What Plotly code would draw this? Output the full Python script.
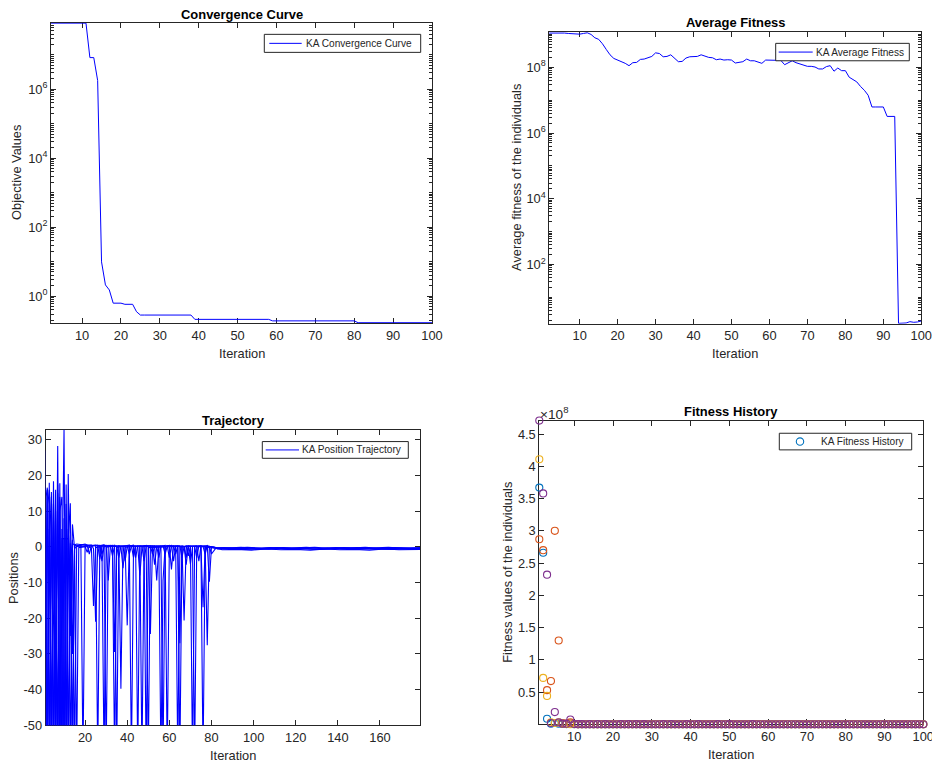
import math
import plotly.graph_objects as go

W, H = 932, 766          # reference picture size (layout coordinates are given in it)
K = 1.0115               # compensation for the photographing scale
FIG_W, FIG_H = round(W * K), round(H * K)
FONT = "Liberation Sans, Arial, Helvetica, sans-serif"
AX = "#262626"
BLUE = "#0000FF"

# ---------------- data ----------------
ITER_100 = list(range(1, 101))

CONV_VALUES = [
    8.3e7, 8.3e7, 8.3e7, 8.3e7, 8.3e7, 8.3e7, 8.3e7, 8.3e7, 8.3e7, 8.3e7,
    8.3e7, 8.3e6, 8.3e6, 1.8e6, 9.8, 2.1, 1.5, 0.62, 0.62, 0.62,
    0.575, 0.575, 0.575, 0.35, 0.28, 0.28, 0.28, 0.28, 0.28, 0.28,
    0.28, 0.28, 0.28, 0.28, 0.28, 0.28, 0.28, 0.28, 0.21, 0.21,
    0.21, 0.21, 0.21, 0.21, 0.21, 0.21, 0.21, 0.21, 0.21, 0.21,
    0.21, 0.21, 0.21, 0.21, 0.21, 0.21, 0.21, 0.21, 0.19, 0.19,
    0.19, 0.19, 0.19, 0.19, 0.19, 0.19, 0.19, 0.19, 0.19, 0.19,
    0.19, 0.19, 0.19, 0.19, 0.19, 0.19, 0.19, 0.19, 0.19, 0.19,
    0.168, 0.168, 0.168, 0.168, 0.168, 0.168, 0.168, 0.168, 0.168, 0.168,
    0.168, 0.168, 0.168, 0.168, 0.168, 0.168, 0.168, 0.168, 0.168, 0.168,
]

AVG_FITNESS = [
    1.10e9, 1.10e9, 1.12e9, 1.15e9, 1.12e9, 1.10e9, 1.07e9, 1.05e9, 1.02e9, 1.02e9,
    1.07e9, 1.12e9, 1.00e9, 7.9e8, 7.1e8, 5.2e8, 3.5e8, 2.4e8, 1.86e8, 1.66e8,
    1.51e8, 1.32e8, 1.12e8, 1.38e8, 1.41e8, 1.74e8, 1.78e8, 2.00e8, 2.14e8, 2.75e8,
    2.63e8, 2.09e8, 2.14e8, 2.40e8, 1.91e8, 1.48e8, 1.51e8, 1.91e8, 2.09e8, 2.09e8,
    2.14e8, 2.40e8, 2.14e8, 2.00e8, 1.95e8, 1.70e8, 1.78e8, 1.66e8, 1.70e8, 1.66e8,
    1.35e8, 1.41e8, 1.48e8, 1.78e8, 1.58e8, 1.58e8, 1.41e8, 1.32e8, 1.66e8, 1.66e8,
    1.58e8, 1.58e8, 1.62e8, 1.20e8, 1.41e8, 1.58e8, 1.38e8, 1.26e8, 1.17e8, 1.07e8,
    1.07e8, 1.02e8, 8.9e7, 8.9e7, 1.05e8, 1.12e8, 7.6e7, 9.5e7, 7.9e7, 7.9e7,
    5.0e7, 4.2e7, 3.6e7, 2.6e7, 2.0e7, 1.41e7, 6.2e6, 6.2e6, 6.2e6, 6.2e6,
    3.2e6, 3.2e6, 3.2e6, 1.62, 1.62, 1.66, 1.82, 1.74, 1.78, 1.91,
]

# trajectory: (iteration, position) pairs
TRAJ_1 = [(1, 27), (2, -60), (3, 18), (4, -60), (5, 18.4), (6, -45), (7, 28.3), (8, -60), (9, -15),
          (10, 33), (11, -60), (12, 20.4), (13, -25), (14, 6.3), (15, -0.5), (16, 0.2), (18, 0.4),
          (19, -60), (20, 0.3), (23, 0.5), (24, -0.5), (25, -21), (26, 0.2), (29, 0.6), (30, -60),
          (31, 0.4), (34, 0.1), (36, 0.3), (37, -39.8), (38, 0.2), (41, 0.5), (42, -60), (43, 0.3),
          (47, 0.1), (49, 0.4), (50, -60), (51, 0.2), (53, 0.3), (54, -9.4), (55, 0.1), (58, 0.4),
          (59, -60), (60, 0.2), (63, 0.3), (66, 0.1), (67, -20.6), (68, 0.3), (70, 0.2), (71, -60),
          (72, 0.1), (77, 0.3), (78, -27.6), (79, 0.1), (82, -0.2), (90, -0.3), (97, -0.1),
          (104, -0.4), (111, -0.2), (118, -0.3), (125, -0.1), (132, -0.4), (139, -0.2), (146, -0.3),
          (153, -0.1), (160, -0.4), (167, -0.2), (174, -0.3), (179, -0.2)]
TRAJ_2 = [(1, 16.6), (2, 14), (3, -60), (4, 15.4), (5, -60), (6, 10), (7, -60), (8, 17.8), (9, -60),
          (10, 2.3), (11, 2.3), (12, 2.3), (13, 12.2), (14, -60), (15, 0.5), (16, 0.3), (20, 0.8),
          (22, 0.2), (25, 0.5), (26, -60), (27, 0.3), (30, 0.4), (31, -9.4), (32, 0.2), (34, 0.5),
          (35, -60), (36, 0.3), (39, 0.2), (40, -22), (41, 0.4), (44, 0.1), (45, -60), (46, 0.3),
          (50, 0.2), (51, -24.4), (52, 0.1), (56, 0.3), (57, -60), (58, 0.2), (60, 0.4), (61, -6.3),
          (62, 0.2), (64, 0.3), (65, -60), (66, 0.1), (75, 0.3), (76, -60), (77, 0.2), (78, 0.4),
          (79, -9.8), (80, 0), (83, -0.5), (88, -0.6), (95, -0.4), (102, -0.7), (109, -0.5),
          (116, -0.6), (123, -0.4), (130, -0.7), (137, -0.5), (144, -0.6), (151, -0.4), (158, -0.7),
          (165, -0.5), (172, -0.6), (179, -0.5)]
TRAJ_3 = [(1, -60), (2, 16.6), (3, 12), (4, -60), (5, 15), (6, -60), (7, 17.5), (8, -50), (9, 5),
          (10, -60), (11, 17.5), (12, -60), (13, 1), (14, -30), (15, -0.3), (16, -60), (17, -0.2),
          (21, 0.1), (23, -0.3), (24, -16.6), (25, -0.2), (28, 0.1), (29, -60), (30, -0.1), (33, 0.2),
          (34, -60), (35, -0.2), (37, 0.1), (38, -6), (39, -0.1), (45, 0.2), (46, -8), (47, 0),
          (48, 0.1), (49, -60), (50, -0.2), (63, 0.1), (64, -60), (65, -0.1), (69, 0.2), (70, -4.8),
          (71, 0), (72, -60), (73, -0.1), (75, 0.2), (76, -16.9), (77, -0.1), (81, -0.3), (86, -0.2),
          (93, -0.5), (100, -0.3), (107, -0.6), (114, -0.2), (121, -0.4), (128, -0.6), (135, -0.3),
          (142, -0.5), (149, -0.2), (156, -0.4), (163, -0.6), (170, -0.3), (179, -0.4)]
TRAJ_4 = [(1, 5), (2, -60), (3, 16), (4, 3), (5, -60), (6, 16), (7, -60), (8, 10), (9, 14),
          (10, -60), (11, 12), (12, -60), (13, -5), (14, 2), (15, -60), (16, 0.1), (19, 0.6),
          (27, 0.3), (28, -4), (29, 0.2), (33, 0.4), (34, -29.5), (35, 0.1), (42, 0.3), (43, -3),
          (44, 0.2), (46, 0.1), (47, -60), (48, 0.3), (55, 0.2), (56, -60), (57, -9.4), (58, 0.1),
          (59, 0.3), (60, -3), (61, 0.2), (64, 0.1), (65, -27), (66, 0.3), (67, 0.1), (68, -3),
          (69, 0.2), (81, 0), (85, -0.8), (92, -0.7), (99, -0.9), (106, -0.6), (113, -0.8),
          (120, -0.7), (127, -0.9), (134, -0.6), (141, -0.8), (148, -0.7), (155, -0.9), (162, -0.6),
          (169, -0.8), (179, -0.7)]
TRAJ_5 = [(1, -30), (2, 16), (3, -60), (4, 14), (5, -20), (6, -60), (7, 15), (8, -60), (9, 2.3),
          (10, 2.3), (11, 2.3), (12, 2.3), (13, -60), (14, 1), (15, 0.5), (16, 0.8), (21, 0.4),
          (22, -2), (23, 0.3), (26, 0.5), (27, -3.5), (28, 0.2), (32, 0.4), (33, -2.5), (34, 0.3),
          (38, 0.2), (39, -4), (40, 0.1), (43, 0.5), (44, -3), (45, 0.3), (52, 0.2), (53, -5),
          (54, 0.1), (57, 0.3), (58, -2), (59, 0.2), (61, 0.4), (62, -4), (63, 0.2), (65, 0.3),
          (66, -3), (67, 0.1), (68, 0.2), (69, -2.5), (70, 0.1), (73, 0.3), (74, -4), (75, 0.2),
          (79, 0.1), (80, -2), (82, -0.4), (87, -0.3), (94, -0.1), (101, -0.4), (108, -0.2),
          (115, -0.5), (122, -0.3), (129, -0.1), (136, -0.4), (143, -0.2), (150, -0.5), (157, -0.3),
          (164, -0.1), (171, -0.4), (179, -0.3)]
TRAJ_6 = [(1, 10), (2, -60), (3, 5), (4, -60), (5, 12), (6, -20), (7, -60), (8, 14), (9, -60),
          (10, 8), (11, -60), (12, 5), (13, -10), (14, -60), (15, 0.4), (16, 0.2), (20, 0.1),
          (21, -1.5), (22, 0.2), (27, 0.4), (28, -2), (29, 0.1), (35, 0.2), (36, -3), (37, 0.1),
          (40, 0.3), (41, -2), (42, 0.2), (47, 0.1), (48, -4), (49, 0.2), (51, 0.3), (52, -2),
          (53, 0.1), (54, 0.2), (55, -3), (56, 0.1), (62, 0.3), (63, -2), (64, 0.2), (67, 0.1),
          (68, -5), (69, 0.2), (72, 0.1), (73, -3), (74, 0.2), (76, 0.1), (77, -2), (78, 0.3),
          (83, -0.6), (89, -0.4), (96, -0.7), (103, -0.5), (110, -0.3), (117, -0.6), (124, -0.4),
          (131, -0.7), (138, -0.5), (145, -0.3), (152, -0.6), (159, -0.4), (166, -0.7), (173, -0.5),
          (179, -0.6)]
TRAJECTORIES = [TRAJ_1, TRAJ_2, TRAJ_3, TRAJ_4, TRAJ_5, TRAJ_6]

# fitness history (4 individuals), iterations 1-10 then 11-100
FIT_BLUE_EARLY = [3.67e8, 2.66e8, 8.6e6, 1.0e6, 2.0e6, 1.0e6, 5e5, 3e5, 1.0e6, 2e5]
FIT_ORANGE_EARLY = [2.87e8, 2.70e8, 5.3e7, 6.7e7, 3.0e8, 1.30e8, 2.0e6, 1.0e6, 3.0e6, 5e5]
FIT_YELLOW_EARLY = [4.11e8, 7.2e7, 4.4e7, 3.0e6, 2.0e6, 3.0e6, 1.0e6, 5e5, 2e5, 4e5]
FIT_PURPLE_EARLY = [4.71e8, 3.58e8, 2.32e8, 2.0e6, 1.9e7, 3.0e6, 1.0e6, 1.0e6, 7.5e6, 5e5]
FIT_LATE = [
    1.5e5, 2.0e5, 1.2e5, 1.8e5, 1.0e5, 1.6e5, 1.3e5, 1.9e5, 1.1e5, 1.4e5,
    1.2e5, 1.7e5, 1.0e5, 1.5e5, 1.3e5, 1.8e5, 1.1e5, 1.6e5, 1.2e5, 1.4e5,
    1.0e5, 1.3e5, 1.5e5, 1.1e5, 1.7e5, 1.2e5, 1.4e5, 1.0e5, 1.6e5, 1.3e5,
    1.1e5, 1.5e5, 1.2e5, 1.4e5, 1.0e5, 1.3e5, 1.6e5, 1.1e5, 1.2e5, 1.5e5,
    1.3e5, 1.0e5, 1.4e5, 1.2e5, 1.1e5, 1.5e5, 1.0e5, 1.3e5, 1.2e5, 1.4e5,
    1.1e5, 1.2e5, 1.0e5, 1.3e5, 1.4e5, 1.1e5, 1.2e5, 1.0e5, 1.3e5, 1.1e5,
    1.2e5, 1.0e5, 1.1e5, 1.3e5, 1.0e5, 1.2e5, 1.1e5, 1.0e5, 1.2e5, 1.1e5,
    1.0e5, 1.1e5, 1.2e5, 1.0e5, 1.1e5, 1.0e5, 1.2e5, 1.1e5, 1.0e5, 1.1e5,
    1.0e5, 1.1e5, 1.0e5, 1.0e5, 1.1e5, 1.0e5, 1.0e5, 1.1e5, 1.0e5, 1.0e5,
]
FIT_SERIES = [FIT_BLUE_EARLY, FIT_ORANGE_EARLY, FIT_YELLOW_EARLY, FIT_PURPLE_EARLY]
FIT_COLORS = ["#0072BD", "#D95319", "#EDB120", "#7E2F8E"]

LOG_MAJOR_TL = [1, 1e2, 1e4, 1e6]
LOG_MAJOR_TR = [1e2, 1e4, 1e6, 1e8]
POS_TICKS = [-50, -40, -30, -20, -10, 0, 10, 20, 30]
FIT_TICKS = [0.5e8, 1e8, 1.5e8, 2e8, 2.5e8, 3e8, 3.5e8, 4e8, 4.5e8]
FIT_TICK_TEXT = ["0.5", "1", "1.5", "2", "2.5", "3", "3.5", "4", "4.5"]

LEGEND_NAMES = ["KA Convergence Curve", "KA Average Fitness", "KA Position Trajectory", "KA Fitness History"]

# ---------------- figure ----------------
fig = go.Figure()

fig.add_trace(go.Scatter(x=ITER_100, y=CONV_VALUES, mode="lines", name=LEGEND_NAMES[0],
                         line=dict(color=BLUE, width=1), xaxis="x", yaxis="y", showlegend=False))
fig.add_trace(go.Scatter(x=ITER_100, y=AVG_FITNESS, mode="lines", name=LEGEND_NAMES[1],
                         line=dict(color=BLUE, width=1), xaxis="x2", yaxis="y2", showlegend=False))
for tr in TRAJECTORIES:
    fig.add_trace(go.Scatter(x=[p[0] for p in tr], y=[p[1] for p in tr], mode="lines",
                             name=LEGEND_NAMES[2], showlegend=False,
                             line=dict(color=BLUE, width=1.1), xaxis="x3", yaxis="y3"))
for early, col in zip(FIT_SERIES, FIT_COLORS):
    fig.add_trace(go.Scatter(x=ITER_100, y=early + FIT_LATE, mode="markers", name=LEGEND_NAMES[3],
                             showlegend=False, cliponaxis=False,
                             marker=dict(symbol="circle-open", size=7 * K, color=col, line=dict(width=1.1)),
                             xaxis="x4", yaxis="y4"))


def px(x):
    return x / W


def py(y):
    return 1 - y / H


def dx(a, b):
    return [px(a), px(b)]


def dy(top, bottom):
    return [py(bottom), py(top)]


def fs(s):
    return s * K


def base_axis(**kw):
    d = dict(showline=True, linecolor=AX, linewidth=1, mirror="allticks", ticks="inside",
             ticklen=5, tickwidth=1, tickcolor=AX, showgrid=False, zeroline=False,
             layer="below traces",
             tickfont=dict(family=FONT, size=fs(12.7), color=AX))
    d.update(kw)
    return d


minor_log = [m * 10 ** k for k in range(-1, 10) for m in range(1, 10)]
minor_cfg = dict(tickvals=minor_log, ticks="inside", ticklen=3, tickcolor=AX, showgrid=False)


def pow_text(vals):
    return ["10<sup>%d</sup>" % round(math.log10(v)) for v in vals]


PAD = 0.012  # tiny log-range pad so curves lying on the box edge stay visible
conv_rng = [math.log10(min(CONV_VALUES)) - PAD, math.log10(max(CONV_VALUES)) + PAD]
avg_rng = [math.log10(min(AVG_FITNESS)) - PAD, math.log10(max(AVG_FITNESS)) + PAD]
all_fit = [v for s in FIT_SERIES for v in s] + FIT_LATE

fig.update_layout(
    width=FIG_W, height=FIG_H, autosize=False, showlegend=False,
    margin=dict(l=0, r=0, t=0, b=0),
    paper_bgcolor="white", plot_bgcolor="white",
    font=dict(family=FONT, color=AX),
    xaxis=base_axis(domain=dx(51, 432), range=[2, 100], tickvals=list(range(10, 101, 10)), anchor="y"),
    yaxis=base_axis(domain=dy(22.7, 322.7), type="log", range=conv_rng, tickvals=LOG_MAJOR_TL,
                    ticktext=pow_text(LOG_MAJOR_TL), minor=minor_cfg, anchor="x"),
    xaxis2=base_axis(domain=dx(549.3, 921.3), range=[2, 100], tickvals=list(range(10, 101, 10)), anchor="y2"),
    yaxis2=base_axis(domain=dy(32, 323.3), type="log", range=avg_rng, tickvals=LOG_MAJOR_TR,
                     ticktext=pow_text(LOG_MAJOR_TR), minor=minor_cfg, anchor="x2"),
    xaxis3=base_axis(domain=dx(45.7, 420), range=[1.3, 179], tickvals=list(range(20, 161, 20)), anchor="y3"),
    yaxis3=base_axis(domain=dy(429.3, 724.3), range=[-50, 32.8], tickvals=POS_TICKS,
                     ticktext=[str(v) for v in POS_TICKS], anchor="x3"),
    xaxis4=base_axis(domain=dx(539.3, 923.3), range=[1, 100], tickvals=list(range(10, 101, 10)), anchor="y4"),
    yaxis4=base_axis(domain=dy(420, 723.3), range=[min(all_fit), max(all_fit)], tickvals=FIT_TICKS,
                     ticktext=FIT_TICK_TEXT, anchor="x4"),
)


def ann(text, x, y, size=12.7, bold=False, angle=0, xanchor="center", color=AX):
    fig.add_annotation(text=("<b>%s</b>" % text) if bold else text, x=px(x), y=py(y),
                       xref="paper", yref="paper", showarrow=False, textangle=angle,
                       xanchor=xanchor, yanchor="middle",
                       font=dict(family=FONT, size=fs(size), color=color))


# titles
ann("Convergence Curve", 241.5, 14, bold=True, color="black", size=12.8)
ann("Average Fitness", 735, 22.7, bold=True, color="black", size=12.8)
ann("Trajectory", 233, 420, bold=True, color="black", size=12.8)
ann("Fitness History", 731.3, 411, bold=True, color="black", size=12.8)
# x labels
for xc, yc in [(241.5, 353.3), (735, 353.3), (233, 754.3), (731.3, 753.3)]:
    ann("Iteration", xc, yc)
# y labels
ann("Objective Values", 16.7, 172, angle=-90)
ann("Average fitness of the individuals", 516.7, 177, angle=-90)
ann("Positions", 13.3, 577, angle=-90)
ann("Fitness values of the individuals", 507.3, 571.7, angle=-90)
# exponent of fitness axis
ann("×10<sup>8</sup>", 538, 412, xanchor="left", size=13.5)


# in-axes legend boxes (box, sample, label), placed in pixels
def legend_box(x0, x1, y0, y1, label, sample_x0, sample_x1, text_x, marker_color=None):
    yc = (y0 + y1) / 2
    fig.add_shape(type="rect", xref="paper", yref="paper", x0=px(x0), x1=px(x1), y0=py(y1), y1=py(y0),
                  line=dict(color=AX, width=1), fillcolor="white", layer="above")
    if marker_color is None:
        fig.add_shape(type="line", xref="paper", yref="paper", x0=px(sample_x0), x1=px(sample_x1),
                      y0=py(yc), y1=py(yc), line=dict(color=BLUE, width=1), layer="above")
    else:
        cx = (sample_x0 + sample_x1) / 2
        r = 3.7
        fig.add_shape(type="circle", xref="paper", yref="paper", x0=px(cx - r), x1=px(cx + r),
                      y0=py(yc + r), y1=py(yc - r), line=dict(color=marker_color, width=1.1),
                      layer="above")
    fig.add_annotation(text=label, x=px(text_x), y=py(yc), xref="paper", yref="paper",
                       showarrow=False, xanchor="left", yanchor="middle",
                       font=dict(family=FONT, size=fs(10), color=AX))


legend_box(264.3, 420.7, 34.3, 52.3, LEGEND_NAMES[0], 269.3, 301.7, 303.5)
legend_box(775.7, 909.3, 43.3, 60.7, LEGEND_NAMES[1], 778.7, 812.7, 813.5)
legend_box(262.3, 408.3, 441.0, 457.7, LEGEND_NAMES[2], 265.7, 299.0, 300.0)
legend_box(779.3, 911.7, 432.7, 449.3, LEGEND_NAMES[3], 783.0, 817.0, 818.5, marker_color=FIT_COLORS[0])

PAGE_FIX = (
    "document.documentElement.style.margin='0';"
    "document.documentElement.style.padding='0';"
    "document.documentElement.style.overflow='hidden';"
    "document.body.style.margin='0';"
    "document.body.style.padding='0';"
    "document.body.style.overflow='hidden';"
    "document.querySelectorAll('.main-svg').forEach(function(s){s.style.display='block';});"
)

fig.write_html("out.html", config={"displayModeBar": False}, post_script=PAGE_FIX)
